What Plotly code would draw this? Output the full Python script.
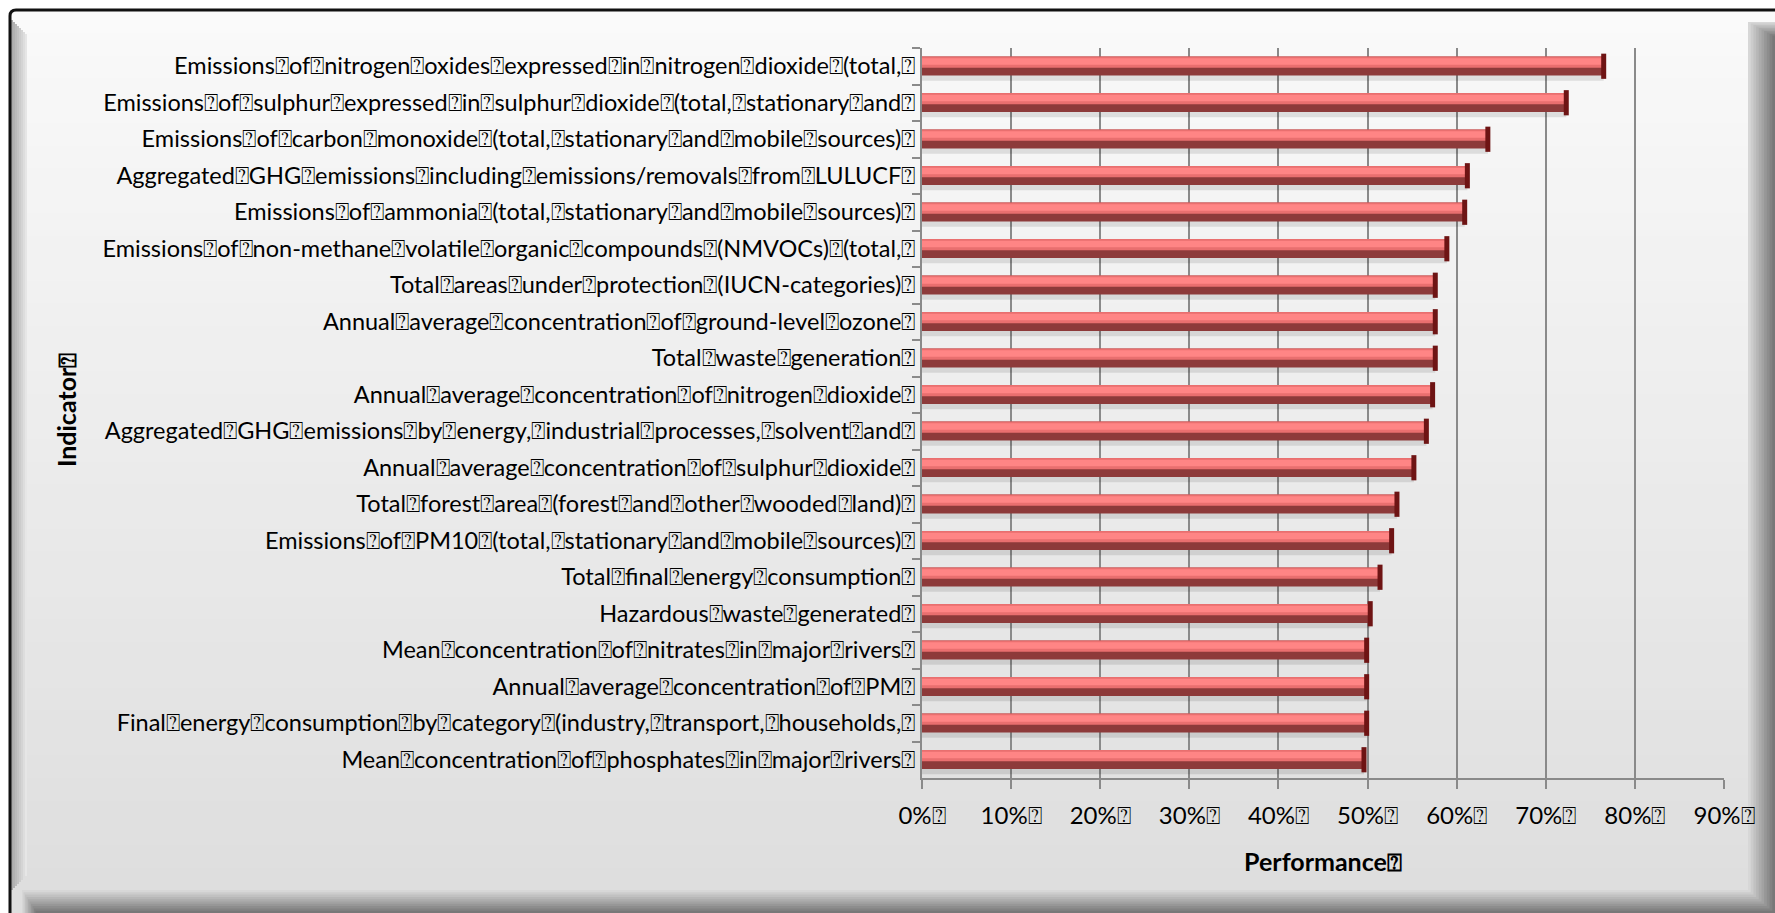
import plotly.graph_objects as go

# Indicator names (top to bottom) and their performance scores (%)
indicators = [
    "Emissions of nitrogen oxides expressed in nitrogen dioxide (total,",
    "Emissions of sulphur expressed in sulphur dioxide (total, stationary and",
    "Emissions of carbon monoxide (total, stationary and mobile sources)",
    "Aggregated GHG emissions including emissions/removals from LULUCF",
    "Emissions of ammonia (total, stationary and mobile sources)",
    "Emissions of non-methane volatile organic compounds (NMVOCs) (total,",
    "Total areas under protection (IUCN-categories)",
    "Annual average concentration of ground-level ozone",
    "Total waste generation",
    "Annual average concentration of nitrogen dioxide",
    "Aggregated GHG emissions by energy, industrial processes, solvent and",
    "Annual average concentration of sulphur dioxide",
    "Total forest area (forest and other wooded land)",
    "Emissions of PM10 (total, stationary and mobile sources)",
    "Total final energy consumption",
    "Hazardous waste generated",
    "Mean concentration of nitrates in major rivers",
    "Annual average concentration of PM",
    "Final energy consumption by category (industry, transport, households,",
    "Mean concentration of phosphates in major rivers",
]
performance = [76.5, 72.3, 63.5, 61.2, 60.9, 58.9, 57.6, 57.6, 57.6, 57.3,
               56.6, 55.2, 53.3, 52.7, 51.4, 50.3, 49.9, 49.9, 49.9, 49.6]
x_ticks = [0, 10, 20, 30, 40, 50, 60, 70, 80, 90]

BOX = "\u2370"
labels = [t.replace(" ", BOX) + BOX for t in indicators]
x_ticktext = [f"{v}%{BOX}" for v in x_ticks]

W, H = 1775, 913
ML, MR, MT, MB = 922, 51, 48, 135
PW, PH = W - ML - MR, H - MT - MB
FONT = "Lato, 'Liberation Sans', sans-serif"

fig = go.Figure()

# soft drop shadow under each bar
fig.add_trace(go.Bar(x=performance, y=labels, orientation="h",
                     offset=-0.02, width=0.42,
                     marker=dict(color="rgba(0,0,0,0.10)", line_width=0),
                     hoverinfo="skip", showlegend=False))
# dark lower half of the cylinder
fig.add_trace(go.Bar(x=performance, y=labels, orientation="h",
                     offset=-0.27, width=0.52,
                     marker=dict(color="#8d3a3a", line_width=0),
                     hoverinfo="skip", showlegend=False))
# light upper half
fig.add_trace(go.Bar(x=performance, y=labels, orientation="h",
                     offset=-0.27, width=0.31,
                     marker=dict(color="#e96f6f", line_width=0),
                     hoverinfo="skip", showlegend=False))
# highlight band
fig.add_trace(go.Bar(x=performance, y=labels, orientation="h",
                     offset=-0.22, width=0.18,
                     marker=dict(color="#ff8585", line_width=0),
                     hoverinfo="skip", showlegend=False))
# dark end caps
fig.add_trace(go.Scatter(x=performance, y=labels, mode="markers",
                         marker=dict(symbol="line-ns", size=18,
                                     line=dict(width=5, color="#6e1414")),
                         hoverinfo="skip", showlegend=False))

# ---- frame / background (pixel -> paper, paper spans the plot area) ----
shapes = []
def px(x):
    return (x - ML) / PW
def py(y):
    return (H - MB - y) / PH

x0, y0, x1, y1 = 10, 10, 1775, 913
n = 40
top_c, bot_c = (250, 250, 250), (222, 222, 222)
for i in range(n):
    ya = y0 + (y1 - y0) * i / n
    yb = y0 + (y1 - y0) * (i + 1) / n + 1
    f = i / (n - 1)
    c = tuple(int(top_c[k] + (bot_c[k] - top_c[k]) * f) for k in range(3))
    shapes.append(dict(type="rect", xref="paper", yref="paper", layer="below",
                       x0=px(x0), x1=px(x1), y0=py(ya), y1=py(yb),
                       fillcolor=f"rgb{c}", line_width=0))
# bevel shading on the right and bottom edges
for i in range(10):
    f = i / 9
    g = int(215 - 95 * f)
    shapes.append(dict(type="rect", xref="paper", yref="paper", layer="below",
                       x0=px(1748 + i * 2.7), x1=px(1775), y0=py(22 + i * 1.5), y1=py(913),
                       fillcolor=f"rgb({g},{g},{g})", line_width=0))
    shapes.append(dict(type="rect", xref="paper", yref="paper", layer="below",
                       x0=px(22 + i * 1.5), x1=px(1775), y0=py(890 + i * 2.3), y1=py(913),
                       fillcolor=f"rgb({g},{g},{g})", line_width=0))
# inner shading along the left edge
for i in range(8):
    g = int(170 + 60 * i / 7)
    shapes.append(dict(type="rect", xref="paper", yref="paper", layer="below",
                       x0=px(11 + i * 2), x1=px(13 + i * 2), y0=py(20 + i * 2), y1=py(890 - i * 2),
                       fillcolor=f"rgb({g},{g},{g})", line_width=0))
# dark outline on left and top
shapes.append(dict(type="path", xref="paper", yref="paper", layer="below",
                   path=f"M {px(10)},{py(913)} L {px(10)},{py(16)} Q {px(10)},{py(10)} {px(16)},{py(10)} L {px(1775)},{py(10)}",
                   line=dict(color="#111111", width=3)))

fig.update_layout(
    width=W, height=H,
    barmode="overlay",
    paper_bgcolor="white",
    plot_bgcolor="white",
    margin=dict(l=ML, r=MR, t=MT, b=MB, autoexpand=False),
    shapes=shapes,
    font=dict(family=FONT, color="black", size=23.5),
    showlegend=False,
)
fig.update_xaxes(
    range=[0, 90], tickvals=x_ticks, ticktext=x_ticktext,
    showgrid=True, gridcolor="#8a8a8a", gridwidth=2,
    showline=True, linecolor="#8a8a8a", linewidth=2,
    ticks="outside", ticklen=9, tickwidth=2, tickcolor="#8a8a8a",
    ticklabelstandoff=6,
    tickfont=dict(size=24), zeroline=False,
    title=dict(text=f"<b>Performance{BOX}</b>", font=dict(size=25), standoff=26),
)
fig.update_yaxes(
    range=[len(labels) - 0.5, -0.5], type="category", autorange=False,
    showline=True, linecolor="#8a8a8a", linewidth=2,
    ticks="outside", ticklen=8, tickwidth=2, tickcolor="#8a8a8a",
    tickson="boundaries", showgrid=False,
    tickfont=dict(size=23.5),
    title_text="",
)
fig.add_annotation(text=f"<b>Indicator{BOX}</b>", xref="paper", yref="paper",
                   x=px(66), y=py(410), showarrow=False, textangle=-90,
                   font=dict(size=25, family=FONT), xanchor="center", yanchor="middle")

fig.write_html("out.html")
